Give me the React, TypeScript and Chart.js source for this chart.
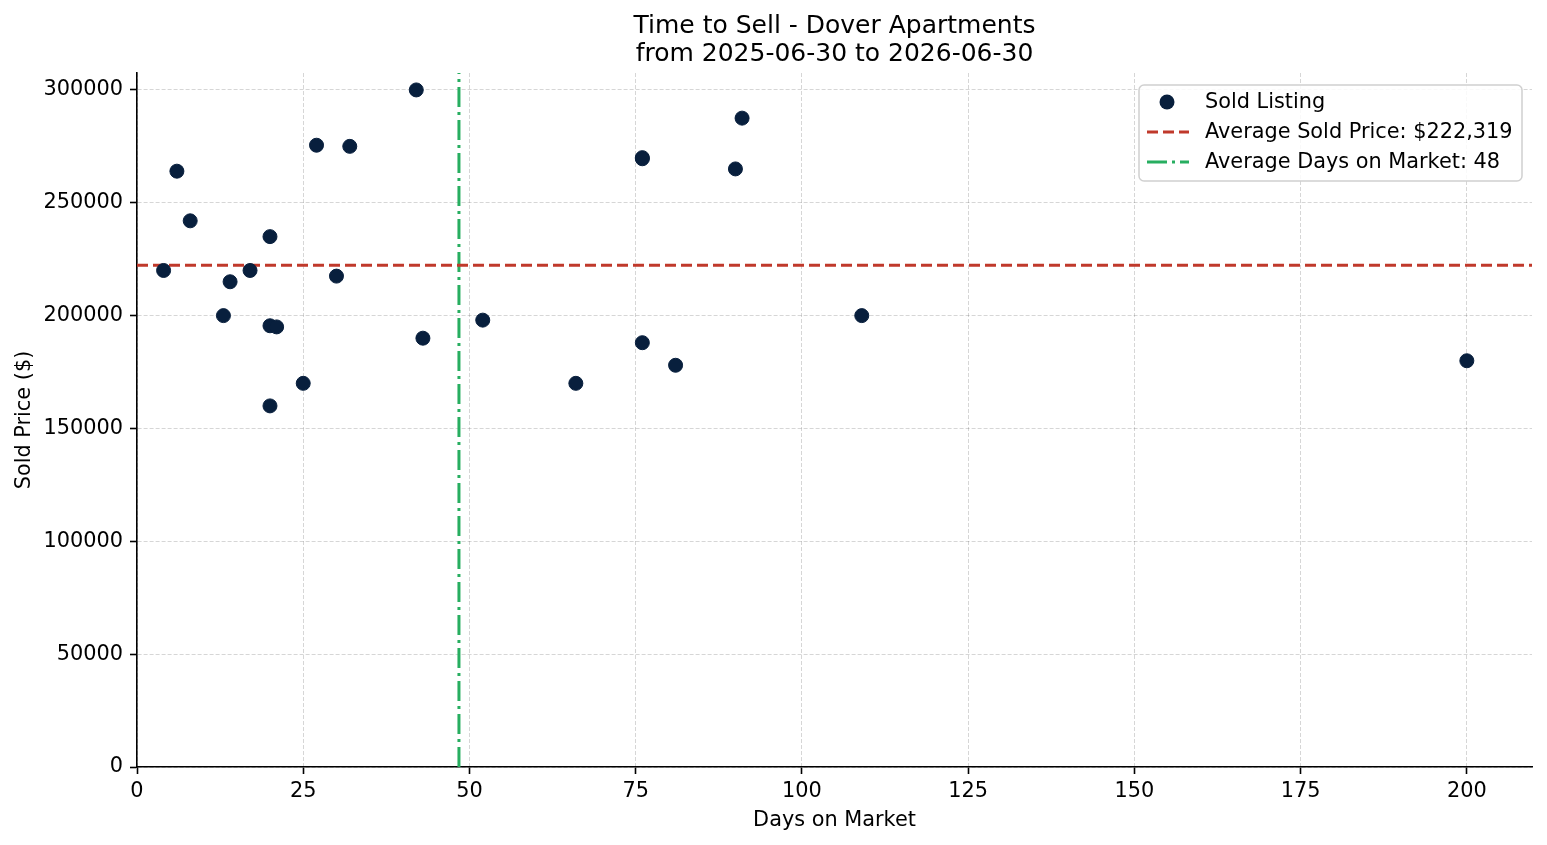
import React, { useEffect, useRef } from "react";
import { Chart, registerables } from "chart.js";

Chart.register(...registerables);

// ---- data ----
const DAYS_ON_MARKET = [4, 6, 8, 13, 14, 17, 20, 20, 21, 20, 25, 27, 30, 32, 42, 43, 52, 66, 76, 76, 76, 81, 90, 91, 109, 200];
const SOLD_PRICES = [
  220000, 264000, 242000, 200000, 215000, 220000, 235000, 195500, 195000, 160000, 170000, 275500, 217500,
  275000, 300000, 190000, 198000, 170000, 270000, 269500, 188000, 178000, 265000, 287500, 200000, 180000,
];
const AVG_SOLD_PRICE = 222319;
const AVG_DAYS = 48.42;
const X_MIN = 0;
const X_MAX = 209.8;
const Y_MIN = 0;
const Y_MAX = 307500;
const X_TICKS = [0, 25, 50, 75, 100, 125, 150, 175, 200];
const Y_TICKS = [0, 50000, 100000, 150000, 200000, 250000, 300000];

const TITLE_LINES = ["Time to Sell - Dover Apartments", "from 2025-06-30 to 2026-06-30"];
const X_LABEL = "Days on Market";
const Y_LABEL = "Sold Price ($)";
const SERIES_LABELS = ["Sold Listing", "Average Sold Price: $222,319", "Average Days on Market: 48"];

// ---- style ----
const FONT = "'DejaVu Sans', 'Liberation Sans', sans-serif";
const FS = 20.83;
const TITLE_FS = 25;
const NAVY = "#081f3d";
const RED = "#c0392b";
const GREEN = "#27ae60";
const GRID = "rgba(0,0,0,0.16)";
const W = 1547;
const H = 845;

const titleLegendPlugin = {
  id: "titleLegend",
  afterDraw(chart: any) {
    const { ctx, chartArea } = chart;
    ctx.save();
    // title
    ctx.fillStyle = "#000";
    ctx.font = `${TITLE_FS}px ${FONT}`;
    ctx.textAlign = "center";
    ctx.textBaseline = "alphabetic";
    const cx = (chartArea.left + chartArea.right) / 2;
    ctx.fillText(TITLE_LINES[0], cx, 33);
    ctx.fillText(TITLE_LINES[1], cx, 61);

    // legend frame
    const bx = 1139, by = 85, bw = 383, bh = 96, r = 5;
    ctx.beginPath();
    ctx.moveTo(bx + r, by);
    ctx.lineTo(bx + bw - r, by);
    ctx.arcTo(bx + bw, by, bx + bw, by + r, r);
    ctx.lineTo(bx + bw, by + bh - r);
    ctx.arcTo(bx + bw, by + bh, bx + bw - r, by + bh, r);
    ctx.lineTo(bx + r, by + bh);
    ctx.arcTo(bx, by + bh, bx, by + bh - r, r);
    ctx.lineTo(bx, by + r);
    ctx.arcTo(bx, by, bx + r, by, r);
    ctx.closePath();
    ctx.fillStyle = "rgba(255,255,255,0.85)";
    ctx.fill();
    ctx.strokeStyle = "#d0d0d0";
    ctx.lineWidth = 1.5;
    ctx.stroke();

    const ds = chart.data.datasets;
    const rows = [102, 132, 162];
    ds.forEach((d: any, i: number) => {
      const y = rows[i];
      if (i === 0) {
        ctx.beginPath();
        ctx.arc(1167, y, 7.5, 0, Math.PI * 2);
        ctx.fillStyle = d.backgroundColor;
        ctx.fill();
      } else {
        ctx.beginPath();
        ctx.setLineDash(d.borderDash || []);
        ctx.lineWidth = d.borderWidth;
        ctx.strokeStyle = d.borderColor;
        ctx.lineCap = "butt";
        ctx.moveTo(1147, y);
        ctx.lineTo(1189, y);
        ctx.stroke();
        ctx.setLineDash([]);
      }
      ctx.fillStyle = "#000";
      ctx.font = `${FS}px ${FONT}`;
      ctx.textAlign = "left";
      ctx.textBaseline = "middle";
      ctx.fillText(d.label, 1205, y + 1);
    });
    ctx.restore();
  },
};

export default function App() {
  const ref = useRef<HTMLCanvasElement | null>(null);

  useEffect(() => {
    if (!ref.current) return;
    const points = DAYS_ON_MARKET.map((d, i) => ({ x: d, y: SOLD_PRICES[i] }));
    const chart = new Chart(ref.current, {
      type: "scatter",
      data: {
        datasets: [
          {
            type: "scatter",
            label: SERIES_LABELS[0],
            data: points,
            backgroundColor: NAVY,
            borderColor: NAVY,
            pointRadius: 7,
            borderWidth: 1,
            order: 0,
          } as any,
          {
            type: "line",
            label: SERIES_LABELS[1],
            data: [
              { x: X_MIN, y: AVG_SOLD_PRICE },
              { x: X_MAX, y: AVG_SOLD_PRICE },
            ],
            borderColor: RED,
            backgroundColor: RED,
            borderWidth: 3,
            borderDash: [11, 5],
            pointRadius: 0,
            fill: false,
            order: 1,
          } as any,
          {
            type: "line",
            label: SERIES_LABELS[2],
            data: [
              { x: AVG_DAYS, y: Y_MIN },
              { x: AVG_DAYS, y: Y_MAX },
            ],
            borderColor: GREEN,
            backgroundColor: GREEN,
            borderWidth: 3,
            borderDash: [20, 5, 3, 5],
            pointRadius: 0,
            fill: false,
            order: 2,
          } as any,
        ],
      },
      options: {
        animation: false,
        responsive: false,
        devicePixelRatio: 1,
        events: [],
        layout: { padding: { top: 73, right: 15, left: 0, bottom: 0 } },
        plugins: {
          legend: { display: false },
          title: { display: false },
          tooltip: { enabled: false },
        },
        scales: {
          x: {
            type: "linear",
            min: X_MIN,
            max: X_MAX,
            afterBuildTicks: (s: any) => {
              s.ticks = X_TICKS.map((v) => ({ value: v }));
            },
            afterFit: (s: any) => {
              s.height = 78;
            },
            ticks: {
              autoSkip: false,
              maxRotation: 0,
              padding: 5,
              color: "#000",
              font: { family: FONT, size: FS },
              callback: (v: any) => String(v),
            },
            grid: {
              color: GRID,
              lineWidth: 1,
              tickColor: "#000",
              tickLength: 7,
              tickWidth: 1.6,
            },
            border: { color: "#000", width: 1.6, dash: [4, 2] },
            title: {
              display: true,
              text: X_LABEL,
              color: "#000",
              font: { family: FONT, size: FS },
              padding: { top: 0, bottom: 12 },
            },
          },
          y: {
            type: "linear",
            min: Y_MIN,
            max: Y_MAX,
            afterBuildTicks: (s: any) => {
              s.ticks = Y_TICKS.map((v) => ({ value: v }));
            },
            afterFit: (s: any) => {
              s.width = 137;
            },
            ticks: {
              autoSkip: false,
              padding: 7,
              color: "#000",
              font: { family: FONT, size: FS },
              callback: (v: any) => String(v),
            },
            grid: {
              color: GRID,
              lineWidth: 1,
              tickColor: "#000",
              tickLength: 7,
              tickWidth: 1.6,
            },
            border: { color: "#000", width: 1.6, dash: [4, 2] },
            title: {
              display: true,
              text: Y_LABEL,
              color: "#000",
              font: { family: FONT, size: FS },
              padding: { top: 12, bottom: 0 },
            },
          },
        },
      },
      plugins: [titleLegendPlugin],
    });
    return () => chart.destroy();
  }, []);

  return (
    <div style={{ position: "absolute", left: 0, top: 0, width: W, height: H, background: "#fff" }}>
      <canvas ref={ref} width={W} height={H} style={{ display: "block", width: W, height: H }} />
    </div>
  );
}
